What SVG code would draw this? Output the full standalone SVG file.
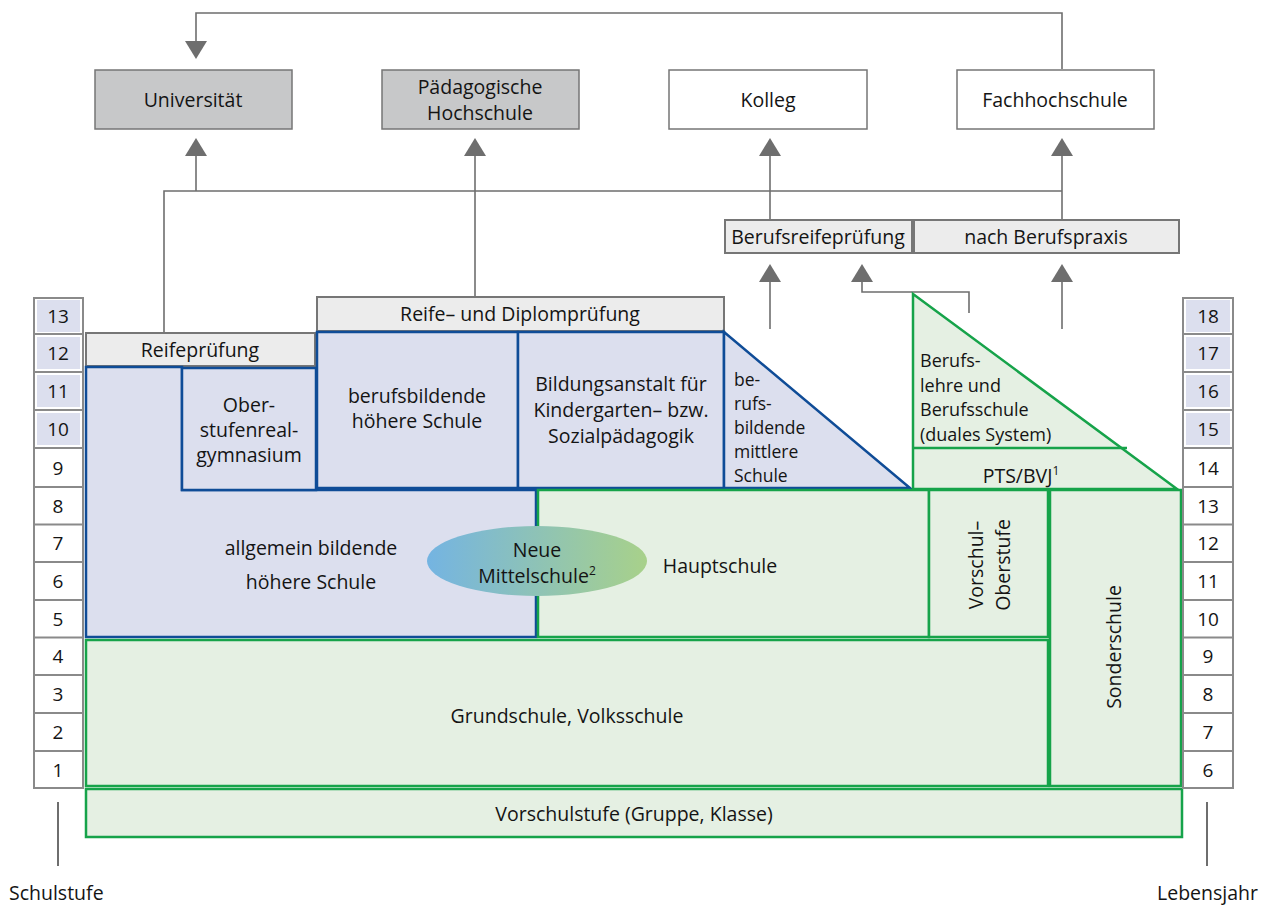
<svg xmlns="http://www.w3.org/2000/svg" width="1269" height="905" viewBox="0 0 1269 905">
<defs>
<style>
text{font-family:"Open Sans","Noto Sans","DejaVu Sans",sans-serif;font-size:19.5px;fill:#141414}
.c{text-anchor:middle}
.num{text-anchor:middle;font-size:19px}
.sm{font-size:17.5px}
.md{font-size:18px}
.gbox{fill:#ececec;stroke:#767676;stroke-width:2}
.tbox{fill:#c7c8c9;stroke:#767676;stroke-width:1.5}
.wbox{fill:#ffffff;stroke:#767676;stroke-width:1.5}
.blue{fill:#dcdfee;stroke:#0f4c97;stroke-width:2.5}
.green{fill:#e5f0e3;stroke:#16a34a;stroke-width:2.5}
.col{fill:#ffffff;stroke:#8a8a8a;stroke-width:2}
.cell{fill:#dcdfee}
.div{stroke:#8a8a8a;stroke-width:2}
.conn{fill:none;stroke:#6e6e6e;stroke-width:1.6}
.arr{marker-end:url(#ah)}
</style>
<marker id="ah" viewBox="0 0 18 22" refX="0" refY="11" markerWidth="18" markerHeight="22" markerUnits="userSpaceOnUse" orient="auto">
<path d="M0,0 L18,11 L0,22 z" fill="#6e6e6e"/>
</marker>
<linearGradient id="nms" x1="0" y1="0" x2="1" y2="0">
<stop offset="0" stop-color="#74b4e2"/>
<stop offset="1" stop-color="#a8d18a"/>
</linearGradient>
</defs>

<g id="connectors">
<path class="conn arr" d="M1062,69 V13 H196 V41"/>
<path class="conn" d="M164,333 V191 H1062"/>
<path class="conn arr" d="M196,191 V156"/>
<path class="conn arr" d="M1062,220 V156"/>
<path class="conn arr" d="M475,297 V156"/>
<path class="conn arr" d="M770,220 V156"/>
<path class="conn arr" d="M770,329 V282"/>
<path class="conn arr" d="M969,313 V292 H862 V282"/>
<path class="conn arr" d="M1062,329 V282"/>
</g>

<g id="universitaet">
<rect class="tbox" x="95" y="70" width="197" height="59"/>
<text class="c" x="193" y="107">Universität</text>
</g>
<g id="paedagogische-hochschule">
<rect class="tbox" x="382" y="70" width="197" height="59"/>
<text class="c" x="480" y="94">Pädagogische</text>
<text class="c" x="480" y="120">Hochschule</text>
</g>
<g id="kolleg">
<rect class="wbox" x="669" y="70" width="198" height="59"/>
<text class="c" x="768" y="107">Kolleg</text>
</g>
<g id="fachhochschule">
<rect class="wbox" x="957" y="70" width="197" height="59"/>
<text class="c" x="1055" y="107">Fachhochschule</text>
</g>

<g id="berufsreifepruefung">
<rect class="gbox" x="725" y="220" width="187" height="33"/>
<text class="c" x="818" y="244">Berufsreifeprüfung</text>
</g>
<g id="nach-berufspraxis">
<rect class="gbox" x="914" y="220" width="265" height="33"/>
<text class="c" x="1046" y="244">nach Berufspraxis</text>
</g>

<g id="reife-diplompruefung">
<rect class="gbox" x="317" y="297" width="407" height="34"/>
<text class="c" x="520" y="321">Reife– und Diplomprüfung</text>
</g>
<g id="reifepruefung">
<rect class="gbox" x="86" y="333" width="229" height="33"/>
<text class="c" x="200" y="357">Reifeprüfung</text>
</g>

<g id="ahs">
<path class="blue" d="M86,367 H182 V490 H536 V637 H86 Z"/>
<text class="c" x="311" y="555">allgemein bildende</text>
<text class="c" x="311" y="589">höhere Schule</text>
</g>
<g id="oberstufenrealgymnasium">
<rect class="blue" x="182" y="368" width="134" height="122"/>
<text class="c" x="249" y="412">Ober-</text>
<text class="c" x="249" y="437">stufenreal-</text>
<text class="c" x="249" y="462">gymnasium</text>
</g>
<g id="bhs">
<rect class="blue" x="317" y="332" width="201" height="156"/>
<text class="c" x="417" y="403">berufsbildende</text>
<text class="c" x="417" y="428">höhere Schule</text>
</g>
<g id="bildungsanstalt">
<rect class="blue" x="518" y="332" width="206" height="156"/>
<text class="c" x="621" y="391">Bildungsanstalt für</text>
<text class="c" x="621" y="417">Kindergarten– bzw.</text>
<text class="c" x="621" y="443">Sozialpädagogik</text>
</g>
<g id="bms">
<path class="blue" d="M724,332 L910,488 H724 Z"/>
<text class="sm" x="734" y="386">be-</text>
<text class="sm" x="734" y="410">rufs-</text>
<text class="sm" x="734" y="434">bildende</text>
<text class="sm" x="734" y="458">mittlere</text>
<text class="sm" x="734" y="482">Schule</text>
</g>

<g id="berufslehre">
<path class="green" d="M913,294 L1177,489 H913 Z"/>
<line x1="913" y1="448" x2="1127" y2="448" stroke="#16a34a" stroke-width="2.5"/>
<text class="md" x="920" y="367">Berufs-</text>
<text class="md" x="920" y="391.5">lehre und</text>
<text class="md" x="920" y="416">Berufsschule</text>
<text class="md" x="920" y="440.5">(duales System)</text>
</g>
<g id="pts-bvj">
<text class="c" x="1021" y="483">PTS/BVJ<tspan font-size="12" dy="-8">1</tspan></text>
</g>

<g id="hauptschule">
<rect class="green" x="538" y="490" width="391" height="147"/>
<text class="c" x="720" y="573">Hauptschule</text>
</g>
<g id="neue-mittelschule">
<ellipse cx="537" cy="561" rx="110" ry="35" fill="url(#nms)"/>
<text class="c" x="537" y="557">Neue</text>
<text class="c" x="537" y="583">Mittelschule<tspan font-size="12" dy="-8">2</tspan></text>
</g>
<g id="vorschul-oberstufe">
<rect class="green" x="929" y="490" width="119" height="147"/>
<text class="c" transform="translate(983,565) rotate(-90)">Vorschul–</text>
<text class="c" transform="translate(1010,565) rotate(-90)">Oberstufe</text>
</g>
<g id="sonderschule">
<rect class="green" x="1050" y="490" width="131" height="296"/>
<text class="c" transform="translate(1121,647) rotate(-90)">Sonderschule</text>
</g>
<g id="grundschule">
<rect class="green" x="86" y="640" width="962" height="146"/>
<text class="c" x="567" y="723">Grundschule, Volksschule</text>
</g>
<g id="vorschulstufe">
<rect class="green" x="86" y="789" width="1096" height="48"/>
<text class="c" x="634" y="821">Vorschulstufe (Gruppe, Klasse)</text>
</g>

<g id="schulstufe">
<rect class="col" x="34" y="298" width="49" height="490"/>
<rect class="cell" x="37" y="300" width="43" height="32"/>
<rect class="cell" x="37" y="337" width="43" height="32"/>
<rect class="cell" x="37" y="375" width="43" height="32"/>
<rect class="cell" x="37" y="413" width="43" height="32"/>
<path class="div" d="M34,334 H83 M34,372 H83 M34,410 H83 M34,448 H83 M34,487 H83 M34,524.5 H83 M34,562 H83 M34,600 H83 M34,637.5 H83 M34,675 H83 M34,713 H83 M34,751 H83"/>
<text class="num" x="58" y="323">13</text>
<text class="num" x="58" y="360">12</text>
<text class="num" x="58" y="398">11</text>
<text class="num" x="58" y="436">10</text>
<text class="num" x="58" y="475">9</text>
<text class="num" x="58" y="513">8</text>
<text class="num" x="58" y="550">7</text>
<text class="num" x="58" y="588">6</text>
<text class="num" x="58" y="626">5</text>
<text class="num" x="58" y="663">4</text>
<text class="num" x="58" y="701">3</text>
<text class="num" x="58" y="739">2</text>
<text class="num" x="58" y="777">1</text>
<line x1="58" y1="802" x2="58" y2="866" stroke="#6e6e6e" stroke-width="2"/>
<text x="9" y="900">Schulstufe</text>
</g>

<g id="lebensjahr">
<rect class="col" x="1183" y="298" width="50" height="490"/>
<rect class="cell" x="1186" y="300" width="44" height="32"/>
<rect class="cell" x="1186" y="337" width="44" height="32"/>
<rect class="cell" x="1186" y="375" width="44" height="32"/>
<rect class="cell" x="1186" y="413" width="44" height="32"/>
<path class="div" d="M1183,334 H1233 M1183,372 H1233 M1183,410 H1233 M1183,448 H1233 M1183,487 H1233 M1183,524.5 H1233 M1183,562 H1233 M1183,600 H1233 M1183,637.5 H1233 M1183,675 H1233 M1183,713 H1233 M1183,751 H1233"/>
<text class="num" x="1208" y="323">18</text>
<text class="num" x="1208" y="360">17</text>
<text class="num" x="1208" y="398">16</text>
<text class="num" x="1208" y="436">15</text>
<text class="num" x="1208" y="475">14</text>
<text class="num" x="1208" y="513">13</text>
<text class="num" x="1208" y="550">12</text>
<text class="num" x="1208" y="588">11</text>
<text class="num" x="1208" y="626">10</text>
<text class="num" x="1208" y="663">9</text>
<text class="num" x="1208" y="701">8</text>
<text class="num" x="1208" y="739">7</text>
<text class="num" x="1208" y="777">6</text>
<line x1="1207" y1="802" x2="1207" y2="866" stroke="#6e6e6e" stroke-width="2"/>
<text x="1157" y="900">Lebensjahr</text>
</g>
</svg>
